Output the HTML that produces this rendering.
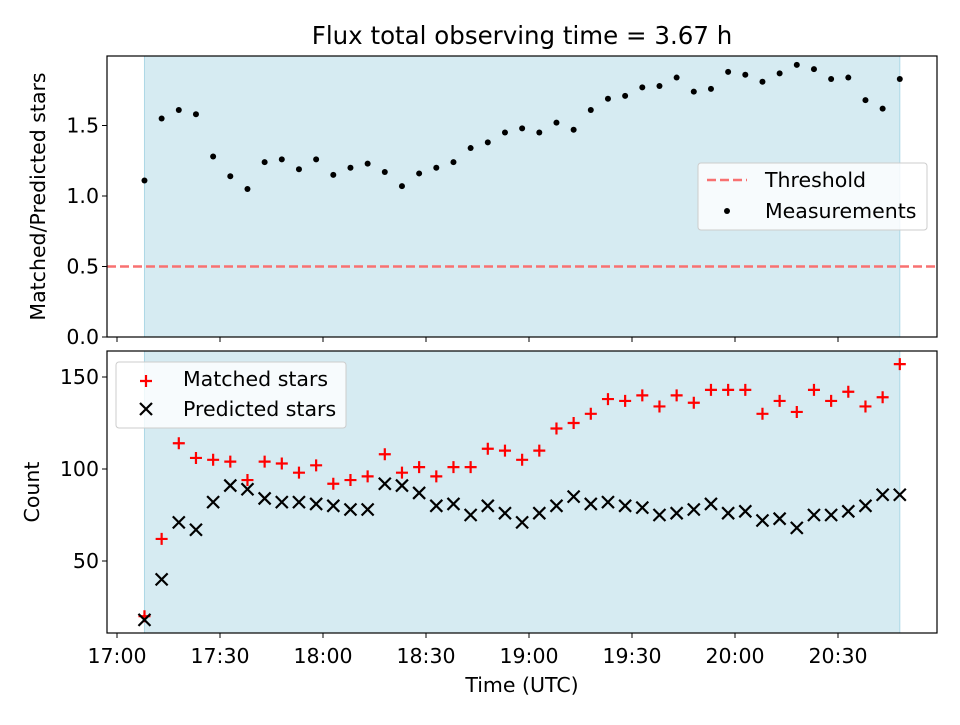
<!DOCTYPE html>
<html><head><meta charset="utf-8"><style>body{margin:0;background:#fff}svg{font-family:"DejaVu Sans","Liberation Sans",sans-serif}</style></head>
<body>
<svg id="c" width="960" height="720" viewBox="0 0 960 720" xmlns="http://www.w3.org/2000/svg"></svg>
<script>
const startMinute = 8, stepMinutes = 5;
const ratioValues = [1.11,1.55,1.61,1.58,1.28,1.14,1.05,1.24,1.26,1.19,1.26,1.15,1.20,1.23,1.17,1.07,1.16,1.20,1.24,1.34,1.38,1.45,1.48,1.45,1.52,1.47,1.61,1.69,1.71,1.77,1.78,1.84,1.74,1.76,1.88,1.86,1.81,1.87,1.93,1.90,1.83,1.84,1.68,1.62,1.83];
const matchedValues = [20,62,114,106,105,104,94,104,103,98,102,92,94,96,108,98,101,96,101,101,111,110,105,110,122,125,130,138,137,140,134,140,136,143,143,143,130,137,131,143,137,142,134,139,157];
const predictedValues = [18,40,71,67,82,91,89,84,82,82,81,80,78,78,92,91,87,80,81,75,80,76,71,76,80,85,81,82,80,79,75,76,78,81,76,77,72,73,68,75,75,77,80,86,86];
const thresholdValue = 0.5;
const xTickMinutes = [0,30,60,90,120,150,180,210];
const xTickLabels = ["17:00","17:30","18:00","18:30","19:00","19:30","20:00","20:30"];
const topTicks = [0,0.5,1.0,1.5];
const bottomTicks = [50,100,150];

const NS="http://www.w3.org/2000/svg", svg=document.getElementById('c');
function el(t,a,p){const e=document.createElementNS(NS,t);for(const k in a)e.setAttribute(k,a[k]);(p||svg).appendChild(e);return e;}
const L=107,R=937, T1=56,B1=337, T2=351,B2=633, FS=20.5;
const xs=m=>117+(m)*(103/30);
const y1=v=>337-v*141;
const y2=v=>561-(v-50)*1.84;
const n=ratioValues.length;
const tm=i=>startMinute+i*stepMinutes;
const x0=xs(tm(0)), xN=xs(tm(n-1));

const title=el('text',{x:522,y:44,'text-anchor':'middle','font-size':24.5});title.textContent='Flux total observing time = 3.67 h';



// top panel
const g1=el('g',{});


const sh1=el('rect',{x:x0,y:T1,width:xN-x0,height:B1-T1,fill:'#add8e6','fill-opacity':0.5,stroke:'#add8e6'},g1);


const th=el('line',{x1:L,x2:R,y1:y1(thresholdValue),y2:y1(thresholdValue),stroke:'#f87171','stroke-width':2.5,'stroke-dasharray':'9,4'},g1);


ratioValues.forEach((v,i)=>{const c=el('circle',{cx:xs(tm(i)),cy:y1(v),r:3,fill:'#000'},g1);

});
el('rect',{x:L,y:T1,width:R-L,height:B1-T1,fill:'none',stroke:'#000','stroke-width':1.2},g1);
topTicks.forEach(t=>{el('line',{x1:L-5,x2:L,y1:y1(t),y2:y1(t),stroke:'#000'},g1);
const tx=el('text',{x:L-8,y:y1(t)+7,'text-anchor':'end','font-size':FS},g1);tx.textContent=t.toFixed(1);

});
xTickMinutes.forEach(m=>el('line',{x1:xs(m),x2:xs(m),y1:B1,y2:B1+5,stroke:'#000'},g1));
const yt1=el('text',{transform:`translate(45,${(T1+B1)/2}) rotate(-90)`,'text-anchor':'middle','font-size':FS},g1);yt1.textContent='Matched/Predicted stars';


// legend top
const lg1=el('g',{},g1);


el('rect',{x:698,y:163,width:229,height:67,rx:3,fill:'#fff','fill-opacity':0.8,stroke:'#ccc'},lg1);
el('line',{x1:707,x2:747,y1:180,y2:180,stroke:'#f87171','stroke-width':2.5,'stroke-dasharray':'9,4'},lg1);
let t=el('text',{x:765,y:187,'font-size':FS},lg1);t.textContent='Threshold';
el('circle',{cx:727,cy:211,r:3,fill:'#000'},lg1);
t=el('text',{x:765,y:218,'font-size':FS},lg1);t.textContent='Measurements';

// bottom panel
const g2=el('g',{});


const sh2=el('rect',{x:x0,y:T2,width:xN-x0,height:B2-T2,fill:'#add8e6','fill-opacity':0.5,stroke:'#add8e6'},g2);


matchedValues.forEach((v,i)=>{const x=xs(tm(i)),y=y2(v);const p=el('path',{d:`M${x-6},${y}H${x+6}M${x},${y-6}V${y+6}`,stroke:'#f00','stroke-width':2.2},g2);

});
predictedValues.forEach((v,i)=>{const x=xs(tm(i)),y=y2(v);const p=el('path',{d:`M${x-6},${y-6}L${x+6},${y+6}M${x-6},${y+6}L${x+6},${y-6}`,stroke:'#000','stroke-width':2.2},g2);

});
el('rect',{x:L,y:T2,width:R-L,height:B2-T2,fill:'none',stroke:'#000','stroke-width':1.2},g2);
bottomTicks.forEach(v=>{el('line',{x1:L-5,x2:L,y1:y2(v),y2:y2(v),stroke:'#000'},g2);
const tx=el('text',{x:L-8,y:y2(v)+7,'text-anchor':'end','font-size':FS},g2);tx.textContent=v;

});
xTickMinutes.forEach((m,i)=>{el('line',{x1:xs(m),x2:xs(m),y1:B2,y2:B2+5,stroke:'#000'},g2);
const tx=el('text',{x:xs(m),y:663,'text-anchor':'middle','font-size':FS},g2);tx.textContent=xTickLabels[i];

});
const yt2=el('text',{transform:`translate(39,${(T2+B2)/2}) rotate(-90)`,'text-anchor':'middle','font-size':FS},g2);yt2.textContent='Count';


const xt=el('text',{x:522,y:692,'text-anchor':'middle','font-size':FS},g2);xt.textContent='Time (UTC)';


const lg2=el('g',{},g2);


el('rect',{x:116,y:362,width:230,height:66,rx:3,fill:'#fff','fill-opacity':0.8,stroke:'#ccc'},lg2);
el('path',{d:'M140,381H152M146,375V387',stroke:'#f00','stroke-width':2.2},lg2);
t=el('text',{x:183,y:386,'font-size':FS},lg2);t.textContent='Matched stars';
el('path',{d:'M140,403L152,415M140,415L152,403',stroke:'#000','stroke-width':2.2},lg2);
t=el('text',{x:183,y:416,'font-size':FS},lg2);t.textContent='Predicted stars';
</script>
</body></html>
